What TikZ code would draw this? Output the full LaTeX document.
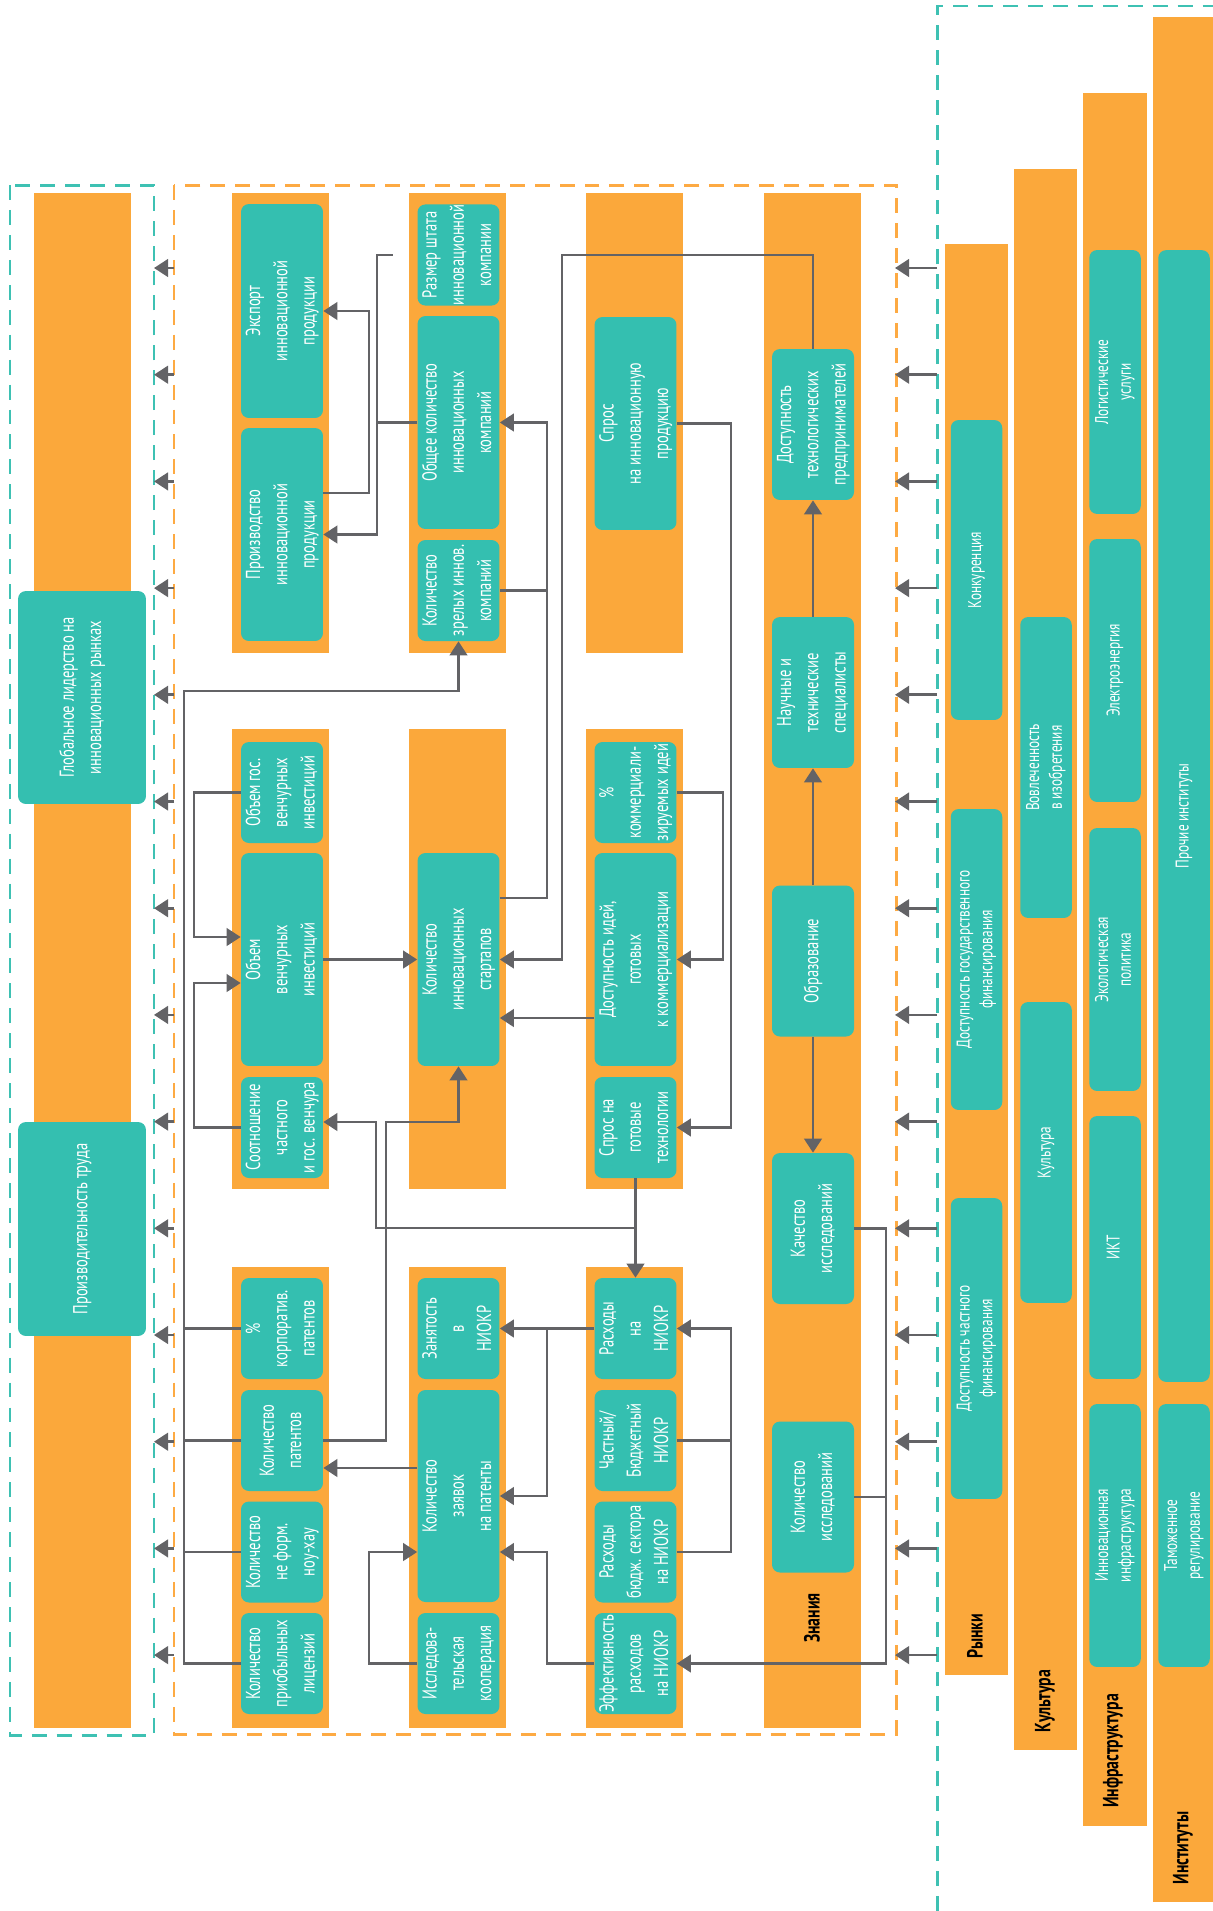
\documentclass[tikz,border=0pt]{standalone}
\usepackage{fontspec}
\setmainfont[FakeStretch=0.72]{PT Sans}
\usetikzlibrary{arrows.meta}
\definecolor{corange}{HTML}{FBA83B}
\definecolor{cteal}{HTML}{34BFB0}
\definecolor{cgrey}{HTML}{636366}
\definecolor{cdteal}{HTML}{3EC1B3}
\definecolor{cdorange}{HTML}{FDAA43}
\newcommand{\vtext}[1]{\rotatebox{90}{\begin{tabular}{@{}c@{}}#1\end{tabular}}}
\tikzset{
  every picture/.style={x=0.02cm, y=-0.02cm},
  lane/.style={fill=corange},
  cell/.style={fill=cteal, rounded corners=4.5pt, text=white, inner sep=0pt, minimum width=1.64cm, minimum height=#1, font=\fontsize{11.5}{15.5}\selectfont},
  cell/.default=2.02cm,
  side/.style={cell=#1, minimum width=1.03cm, font=\fontsize{10.5}{13}\selectfont},
  lanelabel/.style={font=\fontsize{12.5}{14}\selectfont\bfseries, text=black, rotate=90, inner sep=0pt},
  link/.style={draw=cgrey, line width=1.5pt},
  arrow/.style={link, -{Triangle[length=8pt, width=10pt]}},
  frame/.style={draw=#1, line width=1.7pt, dash pattern=on 8.5pt off 5.7pt},
}
\begin{document}
\begin{tikzpicture}
  \useasboundingbox (0,0) rectangle (1213,1911);
  \draw[frame=cdteal] (10,185) rectangle (154,1735);
  \draw[frame=cdorange] (174,185) rectangle (896,1734);
  \draw[frame=cdteal] (937,1911) -- (937,6) -- (1213,6);

  \fill[lane] (34,193) rectangle (131,1728);
  \foreach \x in {232,409,586}
    \foreach \ya/\yb in {193/653, 729/1189, 1267/1728}
      \fill[lane] (\x,\ya) rectangle (\x+97,\yb);
  \fill[lane] (764,193) rectangle (861,1728);
  \fill[lane] (945,244) rectangle (1008,1675);
  \fill[lane] (1014,169) rectangle (1077,1750);
  \fill[lane] (1083,93) rectangle (1147,1826);
  \fill[lane] (1153,17) rectangle (1213,1902);

  \node[cell=4.26cm, minimum width=2.56cm] (lead) at (82,697.5) {\vtext{Глобальное лидерство на\\инновационных рынках}};
  \node[cell=4.28cm, minimum width=2.56cm] (labour) at (82,1229) {\vtext{Производительность труда}};

  \node[cell=4.28cm] (exp) at (282,311) {\vtext{Экспорт\\инновационной\\продукции}};
  \node[cell=4.26cm] (prod) at (282,534.5) {\vtext{Производство\\инновационной\\продукции}};
  \node[cell] (govv) at (282,792.5) {\vtext{Объем гос.\\венчурных\\инвестиций}};
  \node[cell=4.26cm] (vent) at (282,959.5) {\vtext{Объем\\венчурных\\инвестиций}};
  \node[cell] (ratio) at (282,1127.5) {\vtext{Соотношение\\частного\\и гос. венчура}};
  \node[cell] (corp) at (282,1328.5) {\vtext{\%\\корпоратив.\\патентов}};
  \node[cell] (pat) at (282,1440.5) {\vtext{Количество\\патентов}};
  \node[cell] (know) at (282,1552) {\vtext{Количество\\не форм.\\ноу-хау}};
  \node[cell] (lic) at (282,1663.5) {\vtext{Количество\\приобыльных\\лицензий}};

  \node[cell] (staff) at (458.5,255) {\vtext{Размер штата\\инновационной\\компании}};
  \node[cell=4.26cm] (total) at (458.5,422.5) {\vtext{Общее количество\\инновационных\\компаний}};
  \node[cell] (mature) at (458.5,590.5) {\vtext{Количество\\зрелых иннов.\\компаний}};
  \node[cell=4.26cm] (start) at (458.5,959.5) {\vtext{Количество\\инновационных\\стартапов}};
  \node[cell] (empl) at (458.5,1328.5) {\vtext{Занятость\\в\\НИОКР}};
  \node[cell=4.24cm] (appl) at (458.5,1496) {\vtext{Количество\\заявок\\на патенты}};
  \node[cell] (coop) at (458.5,1663.5) {\vtext{Исследова-\\тельская\\кооперация}};

  \node[cell=4.26cm] (dem) at (635.5,423.5) {\vtext{Спрос\\на инновационную\\продукцию}};
  \node[cell] (pct) at (635.5,792.5) {\vtext{\%\\коммерциали-\\зируемых идей}};
  \node[cell=4.26cm] (ideas) at (635.5,959.5) {\vtext{Доступность идей,\\готовых\\к коммерциализации}};
  \node[cell] (tech) at (635.5,1127.5) {\vtext{Спрос на\\готовые\\технологии}};
  \node[cell] (rnd) at (635.5,1328.5) {\vtext{Расходы\\на\\НИОКР}};
  \node[cell] (priv) at (635.5,1440.5) {\vtext{Частный/\\Бюджетный\\НИОКР}};
  \node[cell] (bud) at (635.5,1552) {\vtext{Расходы\\бюдж. сектора\\на НИОКР}};
  \node[cell] (eff) at (635.5,1663.5) {\vtext{Эффективность\\расходов\\на НИОКР}};

  \node[cell=3.02cm] (ent) at (813,424.5) {\vtext{Доступность\\технологических\\предпринимателей}};
  \node[cell=3.02cm] (sci) at (813,692.5) {\vtext{Научные и\\технические\\специалисты}};
  \node[cell=3.02cm] (edu) at (813,961) {\vtext{Образование}};
  \node[cell=3.02cm] (qual) at (813,1228.5) {\vtext{Качество\\исследований}};
  \node[cell=3.02cm] (cnt) at (813,1497) {\vtext{Количество\\исследований}};
  \node[lanelabel] (knowl) at (812,1618) {Знания};

  \node[side=6.0cm] (comp) at (976.5,570) {\vtext{Конкуренция}};
  \node[side=6.02cm] (govf) at (976.5,959.5) {\vtext{Доступность государственного\\финансирования}};
  \node[side=6.02cm] (privf) at (976.5,1348.5) {\vtext{Доступность частного\\финансирования}};
  \node[lanelabel] (mark) at (975,1636) {Рынки};
  \node[side=6.02cm] (invol) at (1046,767.5) {\vtext{Вовлеченность\\в изобретения}};
  \node[side=6.02cm] (cult) at (1046,1152.5) {\vtext{Культура}};
  \node[lanelabel] (cultl) at (1045,1701) {Культура};
  \node[side=5.28cm] (logi) at (1115,382) {\vtext{Логистические\\услуги}};
  \node[side=5.26cm] (elec) at (1115,670.5) {\vtext{Электроэнергия}};
  \node[side=5.26cm] (eco) at (1115,959.5) {\vtext{Экологическая\\политика}};
  \node[side=5.26cm] (ict) at (1115,1247.5) {\vtext{ИКТ}};
  \node[side=5.26cm] (infr) at (1115,1535.5) {\vtext{Инновационная\\инфраструктура}};
  \node[lanelabel] (infrl) at (1113,1751) {Инфраструктура};
  \node[side=22.64cm] (other) at (1184,816) {\vtext{Прочие институты}};
  \node[side=5.26cm] (cust) at (1184,1535.5) {\vtext{Таможенное\\регулирование}};
  \node[lanelabel] (instl) at (1183,1848) {Институты};

  \foreach \k in {0,...,13} {
    \pgfmathsetmacro\yy{268+106.7*\k}
    \draw[arrow] (174,\yy) -- (154,\yy);
    \draw[arrow] (937,\yy) -- (895,\yy);
  }

  \coordinate (stub) at (393,255);
  \draw[link] (total.west) -- (377,422.5) |- (stub);
  \draw[arrow] (377,422.5) -- (377,534.5) -- (prod.east);
  \draw[arrow] (prod.east |- 0,493) -| (369,311) -- (exp.east |- 0,311);
  \draw[link] (mature.east) -- (547,590.5);
  \draw[arrow] (start.east |- 0,898) -| (547,422.5) -- (total.east);
  \draw[arrow] (ent.north) |- (562,255) |- (start.east);
  \draw[arrow] (ideas.west |- 0,1018) -- (start.east |- 0,1018);
  \draw[arrow] (pct.east) -- (723,792.5) |- (ideas.east);
  \draw[arrow] (dem.east) -- (731,423.5) |- (tech.east);
  \draw[arrow] (vent.east) -- (start.west);
  \draw[arrow] (govv.west) -- (194,792.5) |- (vent.west |- 0,937);
  \draw[arrow] (ratio.west) -- (194,1127.5) |- (vent.west |- 0,983);
  \draw[arrow] (tech.south) -- (rnd.north);
  \draw[arrow] (635.5,1228) -| (376,1122) -- (ratio.east |- 0,1122);
  \draw[arrow] (pat.east) -| (386,1122) -| (start.south);
  \draw[link] (corp.west) -- (184,1328.5);
  \draw[link] (pat.west) -- (184,1440.5);
  \draw[link] (know.west) -- (184,1552);
  \draw[arrow] (lic.west) -| (184,691) -| (mature.south);
  \draw[arrow] (appl.west |- 0,1468) -- (pat.east |- 0,1468);
  \draw[arrow] (coop.west) -| (369,1552) -- (appl.west |- 0,1552);
  \draw[arrow] (rnd.west) -- (empl.east);
  \draw[arrow] (547,1328.5) |- (appl.east);
  \draw[arrow] (eff.west) -| (547,1552) -- (appl.east |- 0,1552);
  \draw[link] (priv.east) -- (731,1440.5);
  \draw[arrow] (bud.east) -| (731,1328.5) -- (rnd.east);
  \draw[arrow] (edu.north) -- (sci.south);
  \draw[arrow] (edu.south) -- (qual.north);
  \draw[arrow] (sci.north) -- (ent.south);
  \draw[link] (cnt.east) -- (886,1497);
  \draw[arrow] (qual.east) -| (886,1663.5) -- (eff.east);
\end{tikzpicture}
\end{document}
